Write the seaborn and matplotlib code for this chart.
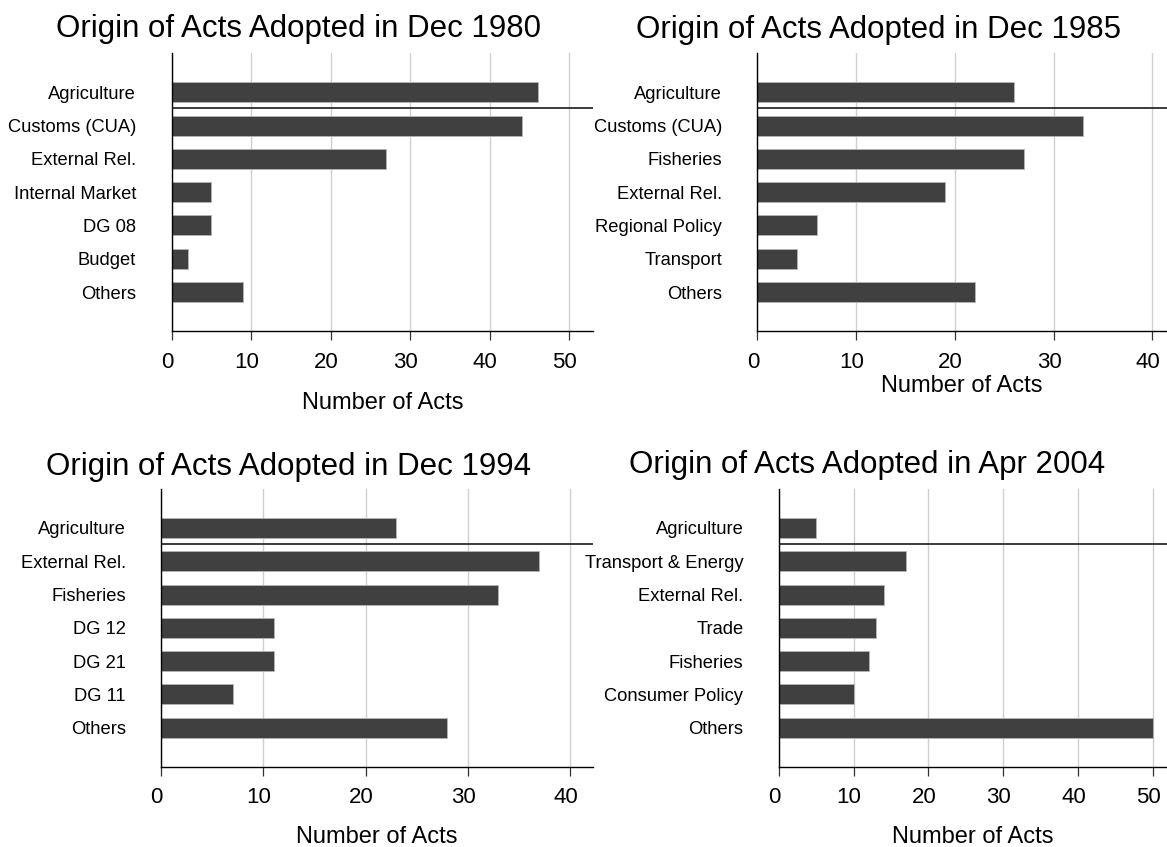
import matplotlib
matplotlib.use("Agg")
import matplotlib.pyplot as plt
import matplotlib.transforms as mtransforms
import pandas as pd
import seaborn as sns

sns.set_theme(style="white")
plt.rcParams['font.family'] = ['Liberation Sans', 'DejaVu Sans']

# Data
titles = ["Origin of Acts Adopted in Dec 1980",
          "Origin of Acts Adopted in Dec 1985",
          "Origin of Acts Adopted in Dec 1994",
          "Origin of Acts Adopted in Apr 2004"]

cats_1980 = ["Agriculture", "Customs (CUA)", "External Rel.", "Internal Market",
             "DG 08", "Budget", "Others"]
vals_1980 = [46, 44, 27, 5, 5, 2, 9]

cats_1985 = ["Agriculture", "Customs (CUA)", "Fisheries", "External Rel.",
             "Regional Policy", "Transport", "Others"]
vals_1985 = [26, 33, 27, 19, 6, 4, 22]

cats_1994 = ["Agriculture", "External Rel.", "Fisheries", "DG 12",
             "DG 21", "DG 11", "Others"]
vals_1994 = [23, 37, 33, 11, 11, 7, 28]

cats_2004 = ["Agriculture", "Transport & Energy", "External Rel.", "Trade",
             "Fisheries", "Consumer Policy", "Others"]
vals_2004 = [5, 17, 14, 13, 12, 10, 50]

x_max = [53, 41.5, 42.25, 51.9]

# Layout: axes rect, title position, x-label position (axes fraction)
axes_rects = [[0.1471, 0.6092, 0.3612, 0.3279],
              [0.6491, 0.6092, 0.3509, 0.3279],
              [0.1380, 0.0948, 0.3702, 0.3279],
              [0.6674, 0.0948, 0.3326, 0.3279]]
title_pos = [(0.2562, 0.9563), (0.7524, 0.9548), (0.2476, 0.4392), (0.7429, 0.4419)]
xlabel_y = [-0.218, -0.158, -0.212, -0.213]

data = [(cats_1980, vals_1980), (cats_1985, vals_1985),
        (cats_1994, vals_1994), (cats_2004, vals_2004)]

fig = plt.figure(figsize=(11.67, 8.47), dpi=100)
shift = mtransforms.ScaledTranslation(-4.5 / 100, 0, fig.dpi_scale_trans)

for i, (cats, vals) in enumerate(data):
    ax = fig.add_axes(axes_rects[i])
    df = pd.DataFrame({"origin": cats, "acts": vals})
    sns.barplot(data=df, y="origin", x="acts", orient="h", order=cats,
                color="#404040", saturation=1, width=0.6,
                edgecolor="#b4b4b4", linewidth=0.6, ax=ax, zorder=2)

    ax.set_ylim(len(cats) - 1 + 1.17, -1.17)
    ax.set_xlim(0, x_max[i])
    ax.set_xticks(range(0, int(x_max[i]) + 1, 10))

    # light vertical grid
    ax.xaxis.grid(True, color="#d0d0d0", linewidth=1)
    ax.set_axisbelow(True)

    # separator below agriculture
    ax.axhline(0.47, color="#1a1a1a", linewidth=1.2, zorder=3)

    ax.spines["top"].set_visible(False)
    ax.spines["right"].set_visible(False)
    for s in ["left", "bottom"]:
        ax.spines[s].set_color("black")
        ax.spines[s].set_linewidth(1)

    ax.tick_params(axis="x", bottom=True, length=6.8, width=0.9, color="#333333",
                   labelsize=16, pad=8, labelcolor="black")
    ax.tick_params(axis="y", left=False, labelsize=13.2, pad=19.5, labelcolor="black")
    for lbl in ax.get_xticklabels():
        lbl.set_transform(lbl.get_transform() + shift)

    ax.set_ylabel("")
    ax.set_xlabel("Number of Acts", fontsize=17, color="black")
    ax.xaxis.set_label_coords(0.5, xlabel_y[i])

    fig.text(title_pos[i][0], title_pos[i][1], titles[i], ha="center",
             va="baseline", fontsize=22.5, color="black")

fig.savefig("out.png", dpi=100, facecolor="white")
